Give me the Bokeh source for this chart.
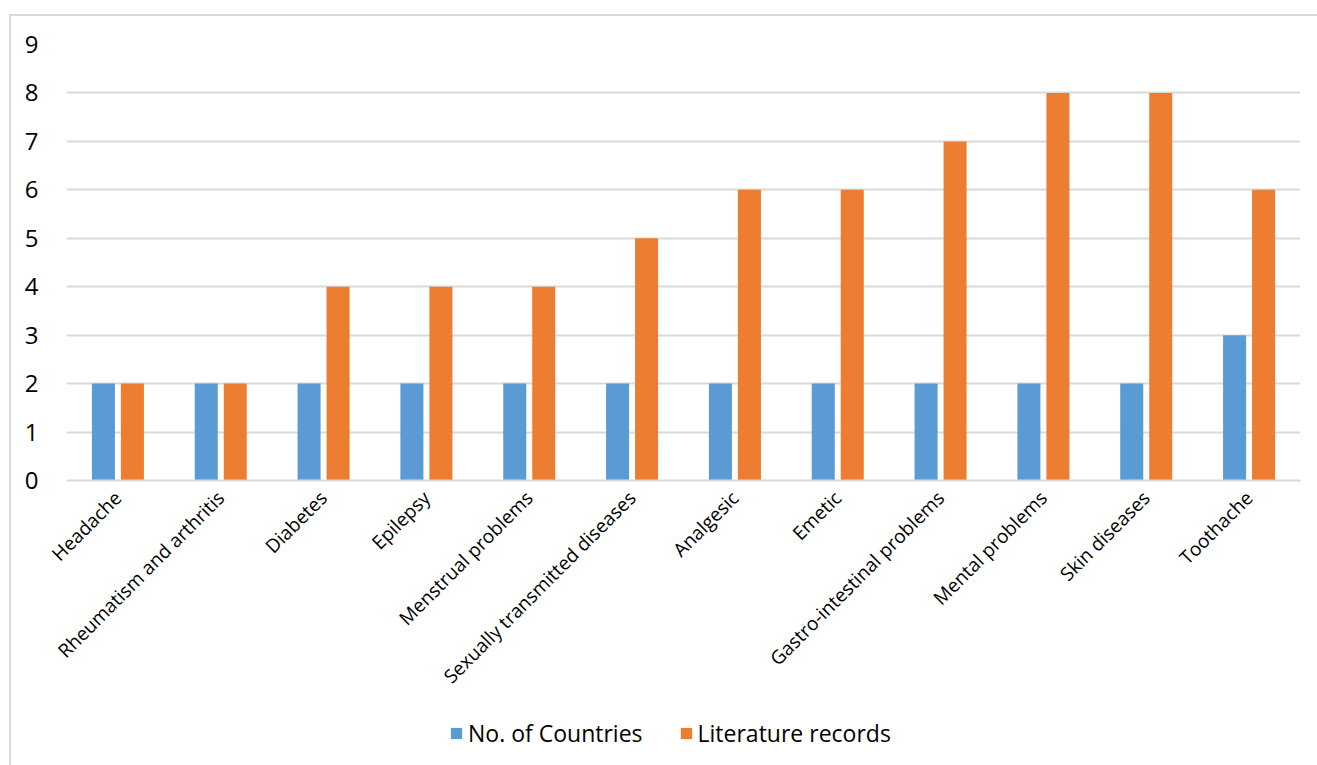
from math import pi
from bokeh.plotting import figure
from bokeh.layouts import column
from bokeh.models import (ColumnDataSource, FactorRange, Range1d, Legend, LegendItem,
                          FixedTicker)
from bokeh.transform import dodge
from bokeh.embed import file_html
from bokeh.resources import INLINE

categories = ["Headache", "Rheumatism and arthritis", "Diabetes", "Epilepsy",
              "Menstrual problems", "Sexually transmitted diseases", "Analgesic",
              "Emetic", "Gastro-intestinal problems", "Mental problems",
              "Skin diseases", "Toothache"]
countries = [2, 2, 2, 2, 2, 2, 2, 2, 2, 2, 2, 3]
literature = [2, 2, 4, 4, 4, 5, 6, 6, 7, 8, 8, 6]
y_ticks = [0, 1, 2, 3, 4, 5, 6, 7, 8, 9]
series_names = ["No. of Countries", "Literature records"]
series_colors = ["#5b9bd5", "#ed7d31"]

src = ColumnDataSource(dict(cat=categories, countries=countries, literature=literature))

FONT = "Open Sans"
W = 1306
H1, H2 = 686, 63
p = figure(width=W, height=H1, x_range=FactorRange(*categories, range_padding=0),
           y_range=Range1d(0, 9), output_backend="svg", toolbar_location=None,
           min_border_left=55, min_border_top=28, min_border_right=W - 1289,
           min_border_bottom=H1 - 28 - 436)
p.outline_line_color = None
p.background_fill_color = "white"
p.border_fill_color = "white"

r1 = p.vbar(x=dodge("cat", -0.141, range=p.x_range), top="countries", width=0.224,
            source=src, fill_color=series_colors[0], line_color=None)
r2 = p.vbar(x=dodge("cat", 0.141, range=p.x_range), top="literature", width=0.224,
            source=src, fill_color=series_colors[1], line_color=None)

p.xgrid.grid_line_color = None
p.ygrid.grid_line_color = "#d9d9d9"
p.ygrid.grid_line_width = 2
p.yaxis.ticker = FixedTicker(ticks=y_ticks)
p.yaxis.axis_line_color = None
p.yaxis.major_tick_line_color = None
p.yaxis.minor_tick_line_color = None
p.yaxis.major_label_standoff = 22
p.yaxis.major_label_text_font = FONT
p.yaxis.major_label_text_font_size = "24px"
p.yaxis.major_label_text_color = "#000000"

p.xaxis.axis_line_color = "#d9d9d9"
p.xaxis.axis_line_width = 2
p.xaxis.major_tick_line_color = None
p.xaxis.minor_tick_line_color = None
p.xaxis.major_label_orientation = pi / 4
p.xaxis.major_label_standoff = 8
p.xaxis.major_label_text_font = FONT
p.xaxis.major_label_text_font_size = "19px"
p.xaxis.major_label_text_color = "#000000"

# legend strip below the chart
q = figure(width=W, height=H2, x_range=FactorRange(*categories, range_padding=0),
           y_range=Range1d(0, 9), output_backend="svg", toolbar_location=None,
           x_axis_location=None, y_axis_location=None,
           min_border_left=0, min_border_right=0, min_border_top=0, min_border_bottom=0)
q.outline_line_color = None
q.xgrid.grid_line_color = None
q.ygrid.grid_line_color = None
q.background_fill_color = "white"
q.border_fill_color = "white"
g1 = q.vbar(x="cat", top="countries", width=0.224, source=src,
            fill_color=series_colors[0], line_color=None, visible=False)
g2 = q.vbar(x="cat", top="literature", width=0.224, source=src,
            fill_color=series_colors[1], line_color=None, visible=False)

legend = Legend(items=[LegendItem(label=series_names[0], renderers=[g1]),
                       LegendItem(label=series_names[1], renderers=[g2])],
                orientation="horizontal", location=(383, 16),
                glyph_width=14, glyph_height=14, label_standoff=5, spacing=36,
                padding=0, margin=0, border_line_color=None, background_fill_alpha=0,
                inactive_fill_alpha=0,
                label_text_font=FONT, label_text_font_size="23px", label_text_color="#000000")
q.add_layout(legend, "center")

layout = column(p, q, spacing=0)
layout.styles = {"margin-left": "9px", "margin-top": "14px",
                 "border-left": "2px solid #d9d9d9", "border-top": "2px solid #d9d9d9"}

open("out.html", "w").write(file_html(layout, INLINE))
